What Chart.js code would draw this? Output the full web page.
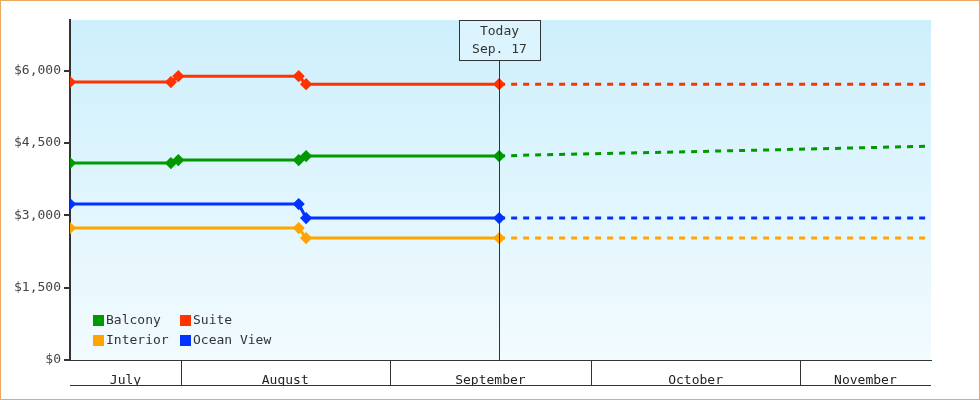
<!DOCTYPE html>
<html><head><meta charset="utf-8">
<script src="https://cdn.jsdelivr.net/npm/chart.js@4.4.1/dist/chart.umd.min.js"></script>
<style>html,body{margin:0;padding:0;background:#fff}#w{width:978px;height:398px;border:1px solid #e8a860}canvas{display:block}</style>
</head><body><div id="w"><canvas id="c" width="978" height="398"></canvas></div>
<script>
// x values are day numbers counted from July 1 (day 0)
const seriesNames = ['Balcony','Suite','Interior','Ocean View'];
const seriesColors = ['#009900','#ff3300','#ffa500','#0033ff'];
const balconyX = [14.5, 29.5, 30.6, 48.5, 49.6, 78.3];
const balconyY = [4083, 4083, 4145, 4145, 4228, 4228];
const suiteX = [14.5, 29.5, 30.6, 48.5, 49.6, 78.3];
const suiteY = [5762, 5762, 5886, 5886, 5720, 5720];
const interiorX = [14.5, 48.5, 49.6, 78.3];
const interiorY = [2736, 2736, 2528, 2528];
const oceanX = [14.5, 48.5, 49.6, 78.3];
const oceanY = [3233, 3233, 2943, 2943];
const fcBalconyX = [78.3, 81.5, 100.5, 106.8, 126, 142.5];
const fcBalconyY = [4228, 4245, 4300, 4320, 4380, 4435];
const fcSuiteX = [78.3, 142.5];
const fcSuiteY = [5720, 5720];
const fcInteriorX = [78.3, 142.5];
const fcInteriorY = [2528, 2528];
const fcOceanX = [78.3, 142.5];
const fcOceanY = [2943, 2943];
const monthNames = ['July','August','September','October','November'];
const monthStarts = [0, 31, 62, 92, 123, 153];
const todayX = 78.3;
const todayLabel = ['Today','Sep. 17'];
const yTicks = [0, 1500, 3000, 4500, 6000];
const xMin = 14.5, xMax = 142.5, yMax = 7050;

const zip=(xs,ys)=>xs.map((x,i)=>({x,y:ys[i]}));
const solid=[[balconyX,balconyY],[suiteX,suiteY],[interiorX,interiorY],[oceanX,oceanY]];
const fc=[[fcBalconyX,fcBalconyY],[fcSuiteX,fcSuiteY],[fcInteriorX,fcInteriorY],[fcOceanX,fcOceanY]];
const datasets=[];
fc.forEach((s,i)=>datasets.push({label:'',data:zip(s[0],s[1]),borderColor:seriesColors[i],borderWidth:3,borderDash:[6,6],pointRadius:0,tension:0}));
solid.forEach((s,i)=>datasets.push({label:seriesNames[i],data:zip(s[0],s[1]),borderColor:seriesColors[i],backgroundColor:seriesColors[i],borderWidth:3,pointStyle:'rectRot',pointRadius:4,pointHoverRadius:4,tension:0}));
const FONT='"DejaVu Sans Mono", monospace';

const deco={id:'deco',
 beforeDraw(ch){const {ctx,chartArea:a}=ch;const g=ctx.createLinearGradient(0,a.top,0,a.bottom);g.addColorStop(0,'#cdeffc');g.addColorStop(1,'#f2fbfe');ctx.fillStyle=g;ctx.fillRect(a.left,a.top,a.right-a.left,a.bottom-a.top);},
 afterDraw(ch){const {ctx,chartArea:a,scales:{x}}=ch;ctx.save();
  ctx.strokeStyle='#333';ctx.lineWidth=1;
  ctx.beginPath();ctx.moveTo(a.left,Math.round(a.bottom)+25.5);ctx.lineTo(a.right,Math.round(a.bottom)+25.5);
  monthStarts.forEach(m=>{if(m>xMin&&m<xMax){const px=Math.round(x.getPixelForValue(m))+0.5;ctx.moveTo(px,a.bottom);ctx.lineTo(px,a.bottom+25);}});
  ctx.stroke();
  const tx=Math.round(x.getPixelForValue(todayX))+0.5;
  ctx.beginPath();ctx.moveTo(tx,a.top+40);ctx.lineTo(tx,a.bottom);ctx.stroke();
  ctx.fillStyle='rgba(220,244,253,1)';ctx.fillRect(tx-40,a.top+0.5,81,40);ctx.strokeRect(tx-40,a.top+0.5,81,40);
  ctx.fillStyle='#333';ctx.font='13px '+FONT;ctx.textAlign='center';ctx.textBaseline='middle';
  ctx.fillText(todayLabel[0],tx,a.top+12);ctx.fillText(todayLabel[1],tx,a.top+30);
  ctx.textAlign='left';
  const pos=[[a.left+23,a.bottom-40],[a.left+110,a.bottom-40],[a.left+23,a.bottom-20],[a.left+110,a.bottom-20]];
  seriesNames.forEach((n,i)=>{const [lx,ly]=pos[i];ctx.fillStyle=seriesColors[i];ctx.fillRect(lx,ly-5,11,11);ctx.fillStyle='#333';ctx.fillText(n,lx+13,ly+1);});
  ctx.restore();}
};
new Chart(document.getElementById('c'),{type:'line',data:{datasets},
 options:{responsive:false,animation:false,devicePixelRatio:1,
  layout:{padding:{top:19,right:48,bottom:13,left:0}},
  plugins:{legend:{display:false},tooltip:{enabled:false}},
  scales:{
   x:{type:'linear',min:xMin,max:xMax,
    afterBuildTicks(s){s.ticks=monthStarts.slice(0,-1).map((m,i)=>({value:(Math.max(m,xMin)+Math.min(monthStarts[i+1],xMax))/2}));},
    afterFit(s){s.height=26;},
    ticks:{autoSkip:false,maxRotation:0,color:'#222',font:{family:'"DejaVu Sans Mono"',size:13},padding:5,callback(v){const i=monthStarts.findIndex((m,j)=>v>=m&&v<monthStarts[j+1]);return monthNames[i];}},
    grid:{display:false},border:{color:'#333',width:1}},
   y:{min:0,max:yMax,
    afterBuildTicks(s){s.ticks=yTicks.map(v=>({value:v}));},
    afterFit(s){s.width=69;},
    ticks:{color:'#444',font:{family:'"DejaVu Sans Mono"',size:13},padding:3,callback:v=>'$'+v.toLocaleString('en-US')},
    grid:{drawOnChartArea:false,tickLength:6,color:'#333',lineWidth:2},border:{color:'#333',width:2}}
  }},
 plugins:[deco]});
</script></body></html>
